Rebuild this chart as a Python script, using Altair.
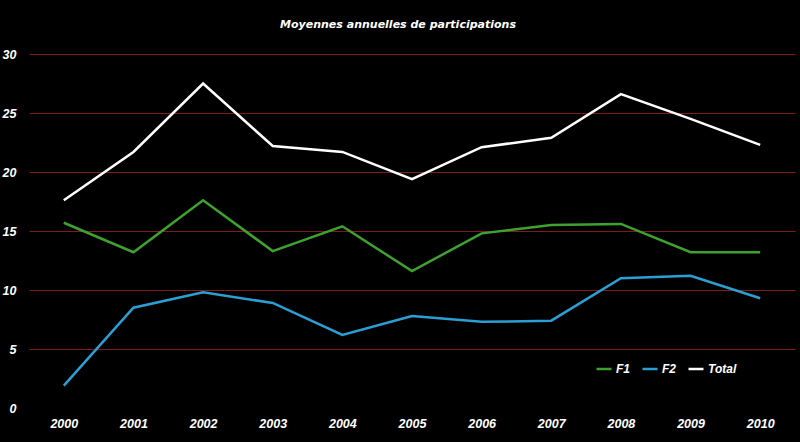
import altair as alt
import pandas as pd

years = ["2000", "2001", "2002", "2003", "2004", "2005", "2006", "2007", "2008", "2009", "2010"]
f1 = [15.7, 13.2, 17.6, 13.3, 15.4, 11.6, 14.8, 15.5, 15.6, 13.2, 13.2]
f2 = [1.9, 8.5, 9.8, 8.9, 6.2, 7.8, 7.3, 7.4, 11.0, 11.2, 9.3]
total = [17.6, 21.7, 27.5, 22.2, 21.7, 19.4, 22.1, 22.9, 26.6, 24.5, 22.3]
series = ["F1", "F2", "Total"]
colors = ["#3ea22e", "#2b9fd4", "#ffffff"]

rows = []
for name, vals in zip(series, [f1, f2, total]):
    for y, v in zip(years, vals):
        rows.append({"Année": y, "Valeur": v, "Série": name})
df = pd.DataFrame(rows)

TFONT = "DejaVu Sans"
LFONT = "Liberation Sans"

chart = alt.Chart(df).mark_line(strokeWidth=2.5).encode(
    x=alt.X("Année:O", scale=alt.Scale(type="point", padding=0.5),
            axis=alt.Axis(title=None, labelAngle=0, domain=False, ticks=False, grid=False,
                          labelColor="white", labelFont=LFONT, labelFontSize=12.5,
                          labelFontWeight="bold", labelFontStyle="italic", labelPadding=9)),
    y=alt.Y("Valeur:Q", scale=alt.Scale(domain=[0, 30], nice=False),
            axis=alt.Axis(title=None, values=[0, 5, 10, 15, 20, 25, 30], domain=False, ticks=False,
                          grid=True, gridColor="#7e1c1c", gridWidth=1,
                          gridOpacity=alt.condition("datum.value == 0", alt.value(0), alt.value(1)),
                          labelColor="white", labelFont=LFONT, labelFontSize=12.5,
                          labelFontWeight="bold", labelFontStyle="italic", labelPadding=13)),
    color=alt.Color("Série:N", scale=alt.Scale(domain=series, range=colors),
                    legend=alt.Legend(title=None, orient="none", direction="horizontal",
                                      legendX=566, legendY=306, symbolType="stroke",
                                      symbolSize=225, symbolStrokeWidth=2.5,
                                      labelColor="white", labelFont=LFONT, labelFontSize=12,
                                      labelFontWeight="bold", labelFontStyle="italic",
                                      columnPadding=6, labelOffset=3)),
).properties(
    width=766,
    height=354,
    autosize=alt.AutoSizeParams(type="none"),
    padding={"left": 29, "top": 54, "right": 5, "bottom": 34},
    title=alt.TitleParams("Moyennes annuelles de participations", color="white", font=TFONT,
                          fontSize=11, fontWeight="bold", fontStyle="italic",
                          anchor="middle", dx=-14, offset=18),
).configure(background="black").configure_view(stroke=None)

chart.save("out.html", embed_options={"renderer": "svg", "actions": False})
